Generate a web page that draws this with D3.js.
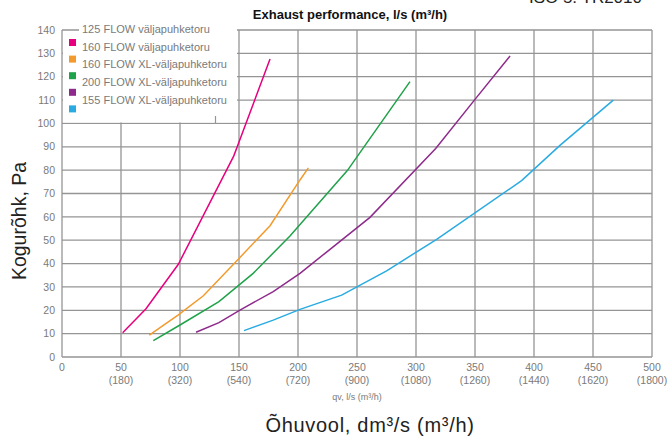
<!DOCTYPE html>
<html>
<head>
<meta charset="utf-8">
<script src="https://cdn.jsdelivr.net/npm/d3@7"></script>
<style>
  html, body { margin: 0; padding: 0; background: #fff; }
  svg { display: block; font-family: "Liberation Sans", Arial, sans-serif; }
</style>
</head>
<body>
<div id="chart"></div>
<script>
// series: [qv l/s, Pa]
const seriesNames = [
    '125 FLOW väljapuhketoru',
    '160 FLOW väljapuhketoru',
    '160 FLOW XL-väljapuhketoru',
    '200 FLOW XL-väljapuhketoru',
    '155 FLOW XL-väljapuhketoru'
];
const seriesColors = ['#e6007e', '#f39a2c', '#1fa24a', '#8e2a8c', '#29abe2'];

const pinkLine = [[51.4, 10.4], [71.2, 20.7], [98.6, 39.7], [145.5, 86], [148.5, 90], [176.3, 127.6]];
const orangeLine = [[74, 9.4], [98.6, 18], [119.8, 26.2], [150, 42.2], [176.3, 56.2], [201.7, 75.8], [208.8, 81]];
const greenLine = [[77.4, 7], [100, 13.7], [133, 23.7], [162, 35.8], [193.2, 51.8], [241.8, 79.8], [294.9, 117.9]];
const purpleLine = [[113.6, 10.6], [133, 14.7], [150.8, 20.1], [179, 28], [201.7, 35.8], [222.9, 44.4], [261, 59.8], [316.7, 89.3], [350, 110.3], [379.7, 128.9]];
const blueLine = [[154.2, 11.3], [179, 15.8], [201.7, 20.4], [237, 26.5], [275.1, 36.9], [317.5, 50.4], [389.5, 75.5], [422, 90.6], [467.2, 110]];

const xTicks = [0, 50, 100, 150, 200, 250, 300, 350, 400, 450, 500];
const xTicksM3h = ['', '(180)', '(320)', '(540)', '(720)', '(900)', '(1080)', '(1260)', '(1440)', '(1620)', '(1800)'];
const yTicks = [0, 10, 20, 30, 40, 50, 60, 70, 80, 90, 100, 110, 120, 130, 140];

const chart = (() => {
    const W = 667, H = 439;
    const PLOT = {left: 62, right: 652, top: 30, bottom: 357};
    const GRID = '#959595';
    const LABEL = '#7a7a7a';
    let svg;

    const initDraw = () => {
        svg = d3.select('#chart').append('svg')
            .attr('width', W)
            .attr('height', H);
        draw();
    };

    const draw = () => {
        const x = d3.scaleLinear().domain([0, 500]).range([PLOT.left, PLOT.right]);
        const y = d3.scaleLinear().domain([0, 140]).range([PLOT.bottom, PLOT.top]);

        // header text, cut by the top edge as in the source
        svg.append('text')
            .attr('x', 642).attr('y', 3)
            .attr('text-anchor', 'end')
            .attr('font-size', 17)
            .attr('fill', '#222')
            .text('ISO 5: TR2010');

        svg.append('text')
            .attr('x', 350).attr('y', 19)
            .attr('text-anchor', 'middle')
            .attr('font-size', 13)
            .attr('font-weight', 'bold')
            .attr('fill', '#111')
            .text('Exhaust performance, l/s (m³/h)');

        // grid
        svg.append('g')
            .selectAll('line')
            .data(yTicks)
            .enter().append('line')
            .attr('x1', PLOT.left).attr('x2', PLOT.right)
            .attr('y1', d => y(d)).attr('y2', d => y(d))
            .attr('stroke', GRID)
            .attr('stroke-width', 1.3);

        svg.append('g')
            .selectAll('line')
            .data(xTicks)
            .enter().append('line')
            .attr('x1', d => x(d)).attr('x2', d => x(d))
            .attr('y1', PLOT.top).attr('y2', PLOT.bottom)
            .attr('stroke', GRID)
            .attr('stroke-width', 1.3);

        // white legend panel covering the grid top left
        svg.append('rect')
            .attr('x', x(0) + 1).attr('y', y(140) + 1)
            .attr('width', 174).attr('height', y(100) - y(140) - 2)
            .attr('fill', '#fff');
        svg.append('rect')
            .attr('x', 79).attr('y', 24)
            .attr('width', 158).attr('height', 10)
            .attr('fill', '#fff');
        svg.append('line')
            .attr('x1', 215.5).attr('x2', 215.5)
            .attr('y1', 116).attr('y2', y(100))
            .attr('stroke', GRID).attr('stroke-width', 1.2);

        // y labels
        svg.append('g')
            .selectAll('text')
            .data(yTicks)
            .enter().append('text')
            .attr('x', 55)
            .attr('y', d => y(d))
            .attr('dy', '0.35em')
            .attr('text-anchor', 'end')
            .attr('font-size', 10.5)
            .attr('fill', LABEL)
            .text(d => d);

        // x labels
        const xl = svg.append('g')
            .selectAll('g')
            .data(xTicks)
            .enter().append('g')
            .attr('transform', d => `translate(${x(d)},0)`);
        xl.append('text')
            .attr('y', 371)
            .attr('text-anchor', 'middle')
            .attr('font-size', 10.5)
            .attr('fill', LABEL)
            .text(d => d);
        xl.append('text')
            .attr('y', 384)
            .attr('text-anchor', 'middle')
            .attr('font-size', 10.5)
            .attr('fill', LABEL)
            .text((d, i) => xTicksM3h[i]);

        svg.append('text')
            .attr('x', 357).attr('y', 400)
            .attr('text-anchor', 'middle')
            .attr('font-size', 9)
            .attr('fill', LABEL)
            .text('qv, l/s (m³/h)');

        svg.append('text')
            .attr('x', 370).attr('y', 432)
            .attr('text-anchor', 'middle')
            .attr('font-size', 20)
            .attr('letter-spacing', 0.7)
            .attr('fill', '#222')
            .text('Õhuvool, dm³/s (m³/h)');

        svg.append('text')
            .attr('transform', 'translate(26,221) rotate(-90)')
            .attr('text-anchor', 'middle')
            .attr('font-size', 19.5)
            .attr('fill', '#222')
            .text('Kogurõhk, Pa');

        // curves
        const line = d3.line().x(d => x(d[0])).y(d => y(d[1]));
        const lines = [pinkLine, orangeLine, greenLine, purpleLine, blueLine];
        svg.append('g')
            .selectAll('path')
            .data(lines)
            .enter().append('path')
            .attr('d', line)
            .attr('fill', 'none')
            .attr('stroke', (d, i) => seriesColors[i])
            .attr('stroke-width', 1.5);

        // legend (swatches sit half a row below their texts, as in the source)
        const leg = svg.append('g');
        leg.selectAll('text')
            .data(seriesNames)
            .enter().append('text')
            .attr('x', 82)
            .attr('y', (d, i) => 29 + i * 17.7)
            .attr('dy', '0.35em')
            .attr('font-size', 11)
            .attr('fill', LABEL)
            .text(d => d);
        leg.selectAll('rect')
            .data(seriesColors)
            .enter().append('rect')
            .attr('x', 69)
            .attr('y', (d, i) => 39 + i * 16.6)
            .attr('width', 7).attr('height', 7)
            .attr('fill', d => d);
    };

    return {
        draw: initDraw
    };
})();

chart.draw();
</script>
</body>
</html>
